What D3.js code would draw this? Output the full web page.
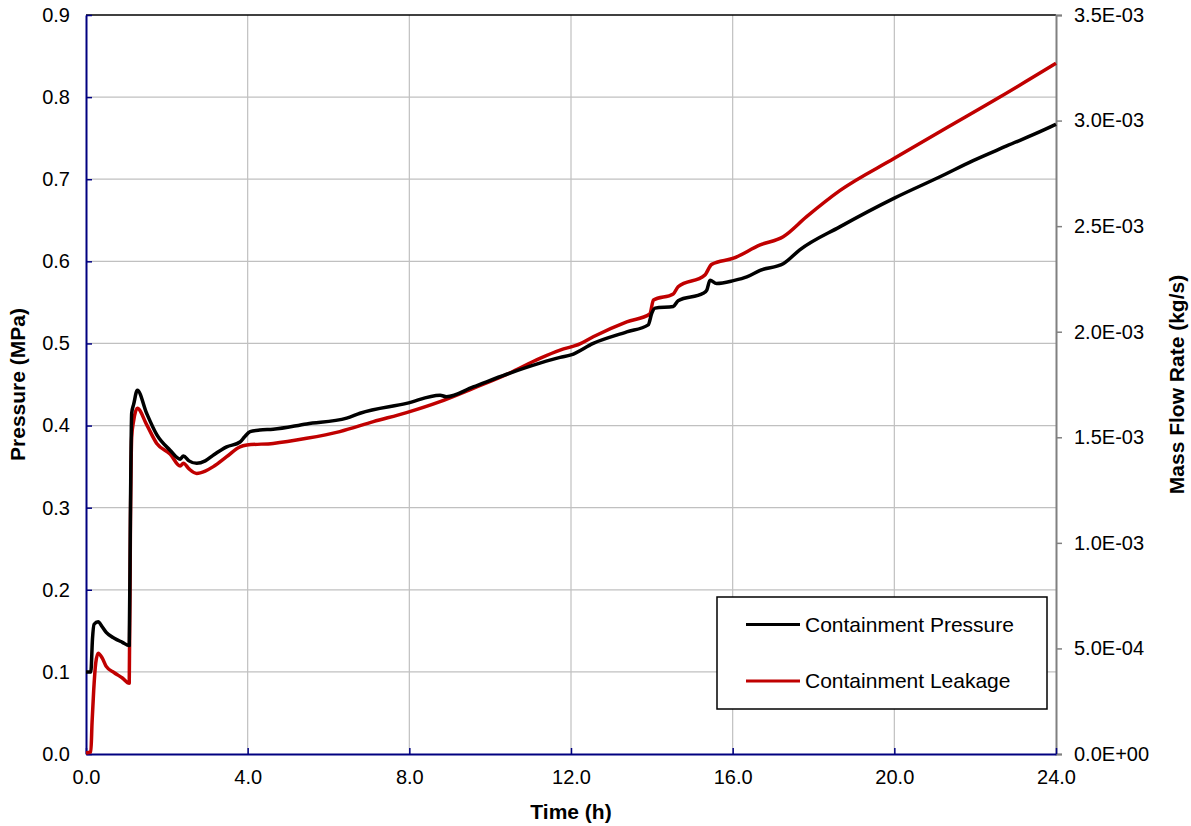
<!DOCTYPE html>
<html>
<head>
<meta charset="utf-8">
<script src="https://cdn.jsdelivr.net/npm/d3@7"></script>
<style>
  html, body { margin: 0; padding: 0; background: #fff; }
  svg { display: block; font-family: "Liberation Sans", Arial, sans-serif; }
</style>
</head>
<body>
<svg id="chart" width="1191" height="826"></svg>
<script>
// ---- Data ----
const xTicks = [0, 4, 8, 12, 16, 20, 24];
const yLeftTicks = [0, 0.1, 0.2, 0.3, 0.4, 0.5, 0.6, 0.7, 0.8, 0.9];
const yRightTicks = [0, 0.0005, 0.001, 0.0015, 0.002, 0.0025, 0.003, 0.0035];
const yRightLabels = ["0.0E+00", "5.0E-04", "1.0E-03", "1.5E-03", "2.0E-03", "2.5E-03", "3.0E-03", "3.5E-03"];

// Containment Pressure (MPa), left axis
const pressureTime = [0, 0.12, 0.16, 0.2, 0.3, 0.4, 0.5, 0.7, 0.9, 1.07, 1.1, 1.13, 1.18, 1.27, 1.5, 1.75, 2.08, 2.33, 2.41, 2.55, 2.74, 2.95, 3.15, 3.48, 3.81, 3.92, 4.06, 4.3, 4.63, 5.46, 6.45, 6.78, 7.93, 8.76, 8.92, 9.58, 10.41, 11.23, 11.73, 12.0, 12.55, 13.38, 13.91, 14.0, 14.08, 14.53, 14.65, 15.27, 15.36, 15.44, 15.6, 16.02, 16.35, 16.68, 17.25, 17.66, 18.65, 20.0, 21.13, 21.95, 22.78, 23.7, 24.0];
const pressureValue = [0.1, 0.1, 0.14, 0.158, 0.161, 0.155, 0.148, 0.141, 0.136, 0.132, 0.30, 0.415, 0.426, 0.443, 0.415, 0.389, 0.370, 0.359, 0.363, 0.357, 0.354, 0.357, 0.364, 0.374, 0.380, 0.386, 0.3926, 0.3946, 0.3955, 0.402, 0.409, 0.415, 0.427, 0.437, 0.435, 0.447, 0.4625, 0.476, 0.483, 0.486, 0.500, 0.514, 0.5226, 0.537, 0.543, 0.545, 0.552, 0.561, 0.565, 0.577, 0.573, 0.5765, 0.581, 0.589, 0.597, 0.614, 0.642, 0.677, 0.703, 0.7227, 0.7405, 0.760, 0.767];

// Containment Leakage (kg/s), right axis
const leakTime = [0, 0.12, 0.15, 0.19, 0.24, 0.3, 0.4, 0.5, 0.7, 0.9, 1.07, 1.1, 1.13, 1.18, 1.27, 1.5, 1.75, 2.08, 2.33, 2.41, 2.55, 2.74, 2.95, 3.15, 3.48, 3.81, 3.98, 4.63, 5.46, 6.28, 7.11, 7.93, 8.76, 9.58, 10.41, 11.23, 11.73, 12.22, 12.55, 13.38, 13.95, 14.04, 14.53, 14.65, 15.31, 15.48, 16.02, 16.68, 17.25, 17.83, 18.65, 20.0, 21.2, 22.6, 24.0];
const leakValue = [0.000005, 0.00001, 0.00015, 0.0003, 0.00043, 0.000477, 0.000455, 0.000415, 0.000385, 0.00036, 0.000335, 0.0011, 0.00150, 0.00158, 0.001637, 0.00156, 0.001471, 0.001421, 0.001364, 0.001377, 0.00135, 0.001329, 0.00134, 0.001361, 0.001408, 0.001455, 0.001463, 0.001471, 0.001495, 0.001527, 0.001574, 0.001617, 0.001669, 0.001732, 0.001798, 0.001874, 0.001913, 0.001942, 0.001976, 0.002047, 0.002084, 0.00215, 0.002179, 0.002213, 0.002268, 0.002319, 0.002348, 0.002411, 0.00245, 0.002545, 0.002668, 0.002821, 0.002955, 0.00311, 0.003271];

const seriesNames = ["Containment Pressure", "Containment Leakage"];
const seriesColors = ["#000000", "#c00000"];

// ---- Layout ----
const svg = d3.select("#chart");
const L = 86, R = 1056, T = 15, B = 754;

const x = d3.scaleLinear().domain([0, 24]).range([L, R]);
const yL = d3.scaleLinear().domain([0, 0.9]).range([B, T]);
const yR = d3.scaleLinear().domain([0, 0.0035]).range([B, T]);

// gridlines
const grid = svg.append("g");
grid.selectAll("line.v").data(xTicks.slice(1, -1)).enter().append("line")
  .attr("x1", d => x(d)).attr("x2", d => x(d)).attr("y1", T).attr("y2", B)
  .attr("stroke", "#c0c0c0").attr("stroke-width", 1.2);
grid.selectAll("line.h").data(yLeftTicks.slice(1, -1)).enter().append("line")
  .attr("x1", L).attr("x2", R).attr("y1", d => yL(d)).attr("y2", d => yL(d))
  .attr("stroke", "#c0c0c0").attr("stroke-width", 1.2);

// top border
svg.append("line").attr("x1", L).attr("x2", R).attr("y1", T).attr("y2", T)
  .attr("stroke", "#000").attr("stroke-width", 1.5);

// right axis (grey)
const rightAxis = d3.axisRight(yR).tickValues(yRightTicks)
  .tickFormat((d, i) => yRightLabels[i]).tickSize(6).tickPadding(12);
const gR = svg.append("g").attr("transform", `translate(${R},0)`).call(rightAxis);
gR.select(".domain").attr("stroke", "#808080").attr("stroke-width", 2);
gR.selectAll(".tick line").attr("stroke", "#808080").attr("stroke-width", 1.5);
gR.selectAll(".tick text").attr("fill", "#000").style("font-size", "20px")
  .style("font-family", "'Liberation Sans', Arial, sans-serif");

// left axis (navy), ticks inside
const leftAxis = d3.axisLeft(yL).tickValues(yLeftTicks).tickFormat(d3.format(".1f"))
  .tickSizeInner(-6).tickSizeOuter(0).tickPadding(16);
const gL = svg.append("g").attr("transform", `translate(${L},0)`).call(leftAxis);
gL.select(".domain").attr("stroke", "#000080").attr("stroke-width", 2);
gL.selectAll(".tick line").attr("stroke", "#000080").attr("stroke-width", 1.5);
gL.selectAll(".tick text").attr("fill", "#000").style("font-size", "20px")
  .style("font-family", "'Liberation Sans', Arial, sans-serif");

// bottom axis (navy), ticks inside
const bottomAxis = d3.axisBottom(x).tickValues(xTicks).tickFormat(d3.format(".1f"))
  .tickSizeInner(-6).tickSizeOuter(0).tickPadding(16);
const gB = svg.append("g").attr("transform", `translate(0,${B})`).call(bottomAxis);
gB.select(".domain").attr("stroke", "#000080").attr("stroke-width", 2);
gB.selectAll(".tick line").attr("stroke", "#000080").attr("stroke-width", 1.5);
gB.selectAll(".tick text").attr("fill", "#000").style("font-size", "20px")
  .style("font-family", "'Liberation Sans', Arial, sans-serif");

// axis titles
svg.append("text").attr("x", (L + R) / 2).attr("y", 819).attr("text-anchor", "middle")
  .style("font-size", "21px").style("font-weight", "bold").text("Time (h)");
svg.append("text").attr("transform", `translate(25,${(T + B) / 2}) rotate(-90)`)
  .attr("text-anchor", "middle").style("font-size", "21px").style("font-weight", "bold")
  .text("Pressure (MPa)");
svg.append("text").attr("transform", `translate(1184,${(T + B) / 2}) rotate(-90)`)
  .attr("text-anchor", "middle").style("font-size", "21px").style("font-weight", "bold")
  .text("Mass Flow Rate (kg/s)");

// lines
const pressureData = pressureTime.map((t, i) => [t, pressureValue[i]]);
const leakData = leakTime.map((t, i) => [t, leakValue[i]]);

const lineL = d3.line().x(d => x(d[0])).y(d => yL(d[1])).curve(d3.curveMonotoneX);
const lineR = d3.line().x(d => x(d[0])).y(d => yR(d[1])).curve(d3.curveMonotoneX);

svg.append("path").datum(leakData).attr("d", lineR).attr("fill", "none")
  .attr("stroke", seriesColors[1]).attr("stroke-width", 3.5).attr("stroke-linejoin", "round");
svg.append("path").datum(pressureData).attr("d", lineL).attr("fill", "none")
  .attr("stroke", seriesColors[0]).attr("stroke-width", 3.5).attr("stroke-linejoin", "round");

// legend
const lg = svg.append("g");
lg.append("rect").attr("x", 717).attr("y", 597).attr("width", 330).attr("height", 112)
  .attr("fill", "#fff").attr("stroke", "#000").attr("stroke-width", 1.5);
seriesNames.forEach((name, i) => {
  const yy = 624.5 + i * 56.5;
  lg.append("line").attr("x1", 746).attr("x2", 800).attr("y1", yy).attr("y2", yy)
    .attr("stroke", seriesColors[i]).attr("stroke-width", 3);
  lg.append("text").attr("x", 805).attr("y", yy).attr("dy", "0.35em")
    .style("font-size", "21px").text(name);
});
</script>
</body>
</html>
